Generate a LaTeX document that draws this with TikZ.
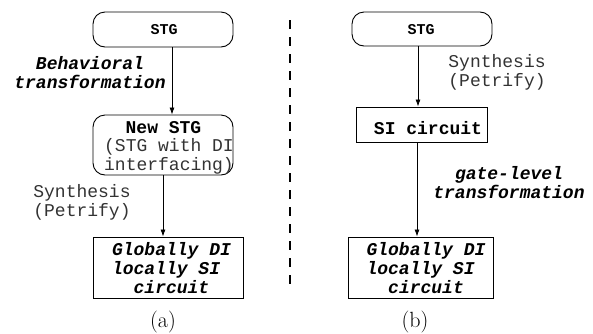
\documentclass[tikz,border=0pt]{standalone}
\usepackage{fontspec}
\setmonofont{Liberation Mono}
\usetikzlibrary{arrows.meta}
\tikzset{
  rbox/.style={draw, rounded corners=12pt, line width=0.9pt, inner sep=0pt},
  sbox/.style={draw, line width=0.9pt, inner sep=0pt},
  flow/.style={-{Latex[length=7pt,width=5pt]}, line width=0.8pt},
  plain/.style={font=\ttfamily\fontsize{18}{18.5}\selectfont, text=black!80, inner sep=0pt, align=center},
  heavy/.style={font=\ttfamily\bfseries\fontsize{18}{18.5}\selectfont, inner sep=0pt, align=center},
  slant/.style={font=\ttfamily\bfseries\itshape\fontsize{18}{19}\selectfont, inner sep=0pt},
  small/.style={font=\ttfamily\bfseries\fontsize{15}{16}\selectfont, inner sep=0pt},
  subcap/.style={font=\fontsize{22}{24}\selectfont, inner sep=0pt}
}
\begin{document}
\begin{tikzpicture}[x=1pt, y=-1pt]
\useasboundingbox (0,0) rectangle (593,333);

% ---- flow (a) ----
\node[rbox, minimum width=140pt, minimum height=35pt] (stgA) at (163,29.5) {};
\node[small] (stgAtxt) at (164,29.5) {STG};
\node[rbox, minimum width=140pt, minimum height=60pt] (newstg) at (163,145) {};
\node[heavy] (newstgtitle) at (163.5,128) {New STG};
\node[plain] (newstgsub) at (169,156.5) {(STG with DI\\interfacing)};
\node[sbox, minimum width=150pt, minimum height=61pt] (gdiA) at (168,267.5) {};
\node[slant, align=left] (gdiAtxt) at (171.5,268.5) {Globally DI\\locally SI\\\phantom{xx}circuit};

\draw[flow] (stgA.south -| 172,0) -- (newstg.north -| 172,0);
\draw[flow] (newstg.south) -- (gdiA.north -| newstg.south);

\node[slant, align=center] (behav) at (90,72.5) {Behavioral\\transformation};
\node[plain] (synA) at (82,202.5) {Synthesis\\(Petrify)};
\node[subcap] (capA) at (163,322) {(a)};

% ---- separator ----
\coordinate (septop) at (290,20);
\coordinate (sepbot) at (290,290);
\draw[dash pattern=on 9pt off 8pt, line width=1.3pt] (septop) -- (sepbot);

% ---- flow (b) ----
\node[rbox, minimum width=140pt, minimum height=34pt] (stgB) at (422,29) {};
\node[small] (stgBtxt) at (421,29.5) {STG};
\node[sbox, minimum width=131pt, minimum height=35pt] (si) at (421.5,124.5) {};
\node[heavy] (sitxt) at (428,128) {SI circuit};
\node[sbox, minimum width=145pt, minimum height=61pt] (gdiB) at (420.5,267.5) {};
\node[slant, align=left] (gdiBtxt) at (426,268.5) {Globally DI\\locally SI\\\phantom{xx}circuit};

\draw[flow] (stgB.south -| 418,0) -- (si.north -| 418,0);
\draw[flow] (si.south -| 417,0) -- (gdiB.north -| 417,0);

\node[plain] (synB) at (497,72.5) {Synthesis\\(Petrify)};
\node[slant, align=center] (gate) at (509,182.5) {gate-level\\transformation};
\node[subcap] (capB) at (415,322) {(b)};
\end{tikzpicture}
\end{document}
